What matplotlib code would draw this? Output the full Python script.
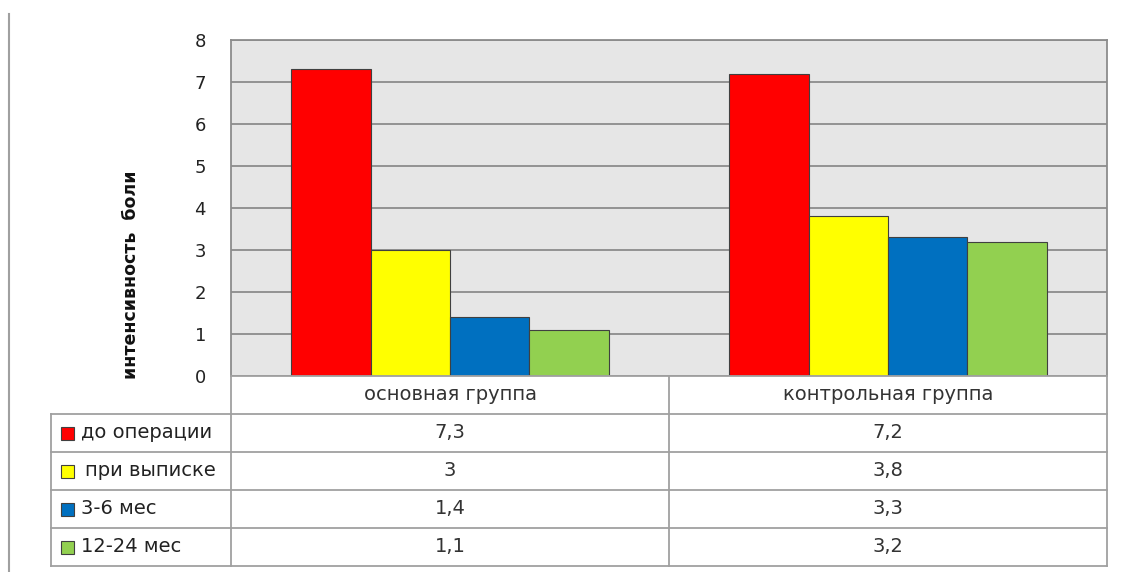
import matplotlib
matplotlib.use("Agg")
import matplotlib.pyplot as plt
from matplotlib.patches import Rectangle
import numpy as np

categories = ["основная группа", "контрольная группа"]
series_names = ["до операции", "при выписке", "3-6 мес", "12-24 мес"]
values = {
    "до операции": [7.3, 7.2],
    "при выписке": [3.0, 3.8],
    "3-6 мес": [1.4, 3.3],
    "12-24 мес": [1.1, 3.2],
}
value_labels = {
    "до операции": ["7,3", "7,2"],
    "при выписке": ["3", "3,8"],
    "3-6 мес": ["1,4", "3,3"],
    "12-24 мес": ["1,1", "3,2"],
}
colors = ["#FF0000", "#FFFF00", "#0070C0", "#92D050"]
yticks = [0, 1, 2, 3, 4, 5, 6, 7, 8]
ylabel = "интенсивность  боли"

W, H = 1121, 572
fig = plt.figure(figsize=(W / 100, H / 100), dpi=100)
plt.rcParams['font.family'] = ['DejaVu Sans']

def px_axes(x0, y0, x1, y1):
    return fig.add_axes([x0 / W, 1 - y1 / H, (x1 - x0) / W, (y1 - y0) / H])

grid_c = "#8C8C8C"
# main plot
ax = px_axes(231, 40, 1107, 376)
ax.set_facecolor("#E6E6E6")
ax.set_xlim(0, len(categories))
ax.set_ylim(0, 8)
bw = 0.181
x = np.arange(len(categories)) + 0.5
for i, (name, col) in enumerate(zip(series_names, colors)):
    ax.bar(x + (i - 1.5) * bw, values[name], width=bw, color=col,
           edgecolor="#404040", linewidth=0.8, zorder=3)
ax.set_yticks(yticks)
ax.set_yticklabels([str(t) for t in yticks], fontsize=13, color="#222222")
ax.yaxis.grid(True, color=grid_c, linewidth=1.3, zorder=0)
ax.set_xticks([])
ax.tick_params(axis="y", length=0, pad=18)
for s in ax.spines.values():
    s.set_color(grid_c)
    s.set_linewidth(1.3)
ax.spines["bottom"].set_visible(False)

fig.text(131 / W, 1 - 275 / H, ylabel, rotation=90, ha="center", va="center",
         fontsize=12.5, fontweight="bold", color="#111111")

# table
tx0, tx_lab, tx_mid, tx1 = 51, 231, 669, 1107
ty = [376, 414, 452, 490, 528, 566]
lc = "#A0A0A0"
tab = px_axes(0, 0, W, H)
tab.set_xlim(0, W)
tab.set_ylim(H, 0)
tab.axis("off")
tab.patch.set_alpha(0)
# outer left vertical line of chart frame
tab.plot([9, 9], [14, H], color="#A0A0A0", linewidth=1.5)
# header row lines
tab.plot([tx_lab, tx1], [ty[0], ty[0]], color=lc, lw=1.3)
for xx in [tx_lab, tx_mid, tx1]:
    tab.plot([xx, xx], [ty[0], ty[-1]], color=lc, lw=1.3)
for yy in ty[1:]:
    tab.plot([tx0, tx1], [yy, yy], color=lc, lw=1.3)
tab.plot([tx0, tx0], [ty[1], ty[-1]], color=lc, lw=1.3)

fs = 14
cx = [(tx_lab + tx_mid) / 2, (tx_mid + tx1) / 2]
for j, c in enumerate(categories):
    tab.text(cx[j], (ty[0] + ty[1]) / 2, c, ha="center", va="center",
             fontsize=fs, color="#333333")
for i, name in enumerate(series_names):
    yc = (ty[i + 1] + ty[i + 2]) / 2
    tab.add_patch(Rectangle((61, yc - 6.5), 13, 13, facecolor=colors[i],
                            edgecolor="#404040", linewidth=0.8))
    tab.text(81 + (4 if i == 1 else 0), yc, name, ha="left", va="center",
             fontsize=fs, color="#222222")
    for j in range(len(categories)):
        tab.text(cx[j], yc, value_labels[name][j], ha="center", va="center",
                 fontsize=fs, color="#333333")

fig.savefig("out.png", dpi=100)
